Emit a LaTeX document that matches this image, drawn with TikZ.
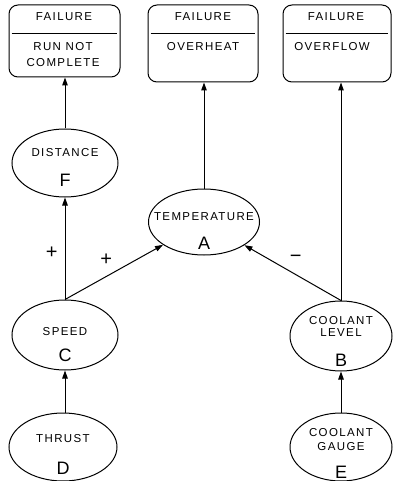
\documentclass[tikz,border=0pt]{standalone}
\usepackage{fontspec}
\newfontfamily\plotfont{Liberation Sans}[LetterSpace=12]
\usetikzlibrary{shapes.geometric,arrows.meta}

\begin{document}
\begin{tikzpicture}[x=1pt,y=-1pt,
  var/.style={ellipse,draw,line width=1pt,inner sep=0pt},
  failbox/.style={rectangle,rounded corners=9pt,draw,line width=1pt},
  word/.style={font=\plotfont\fontsize{11.5}{12}\selectfont,inner sep=0pt,align=center},
  letter/.style={font=\plotfont\fontsize{18}{18}\selectfont,inner sep=0pt},
  sign/.style={font=\plotfont\fontsize{20}{20}\selectfont,inner sep=0pt},
  link/.style={-{Triangle[length=8pt,width=5.5pt]},line width=1pt}]
\useasboundingbox (0,0) rectangle (392,481);

% failure boxes
\node [failbox,minimum width=111pt,minimum height=72pt] (f1) at (64.5,41) {};
\node [failbox,minimum width=110pt,minimum height=77pt] (f2) at (203,43.5) {};
\node [failbox,minimum width=108pt,minimum height=77pt] (f3) at (337,43.5) {};
\draw [line width=0.8pt] ([xshift=3pt]f1.north west) ++(0,29) -- ++(105,0);
\draw [line width=0.8pt] ([xshift=3pt]f2.north west) ++(0,29) -- ++(104,0);
\draw [line width=0.8pt] ([xshift=3pt]f3.north west) ++(0,29) -- ++(102,0);
\node [word] (f1-t) at (64,17) {FAILURE};
\node [word] (f1-b) at (63,55) {RUN NOT\\[4pt]COMPLETE};
\node [word] (f2-t) at (203,17) {FAILURE};
\node [word] (f2-b) at (203,47) {OVERHEAT};
\node [word] (f3-t) at (336,17) {FAILURE};
\node [word] (f3-b) at (332,47) {OVERFLOW};

% variables
\node [var,minimum width=106pt,minimum height=68pt] (F) at (65,163) {};
\node [var,minimum width=111pt,minimum height=66pt] (A) at (204,222) {};
\node [var,minimum width=106pt,minimum height=70pt] (C) at (65,335) {};
\node [var,minimum width=102pt,minimum height=70pt] (B) at (341,336) {};
\node [var,minimum width=108pt,minimum height=68pt] (D) at (63,447) {};
\node [var,minimum width=102pt,minimum height=68pt] (E) at (341,447) {};

\node [word] (F-w) at (65,153) {DISTANCE};
\node [letter] (F-l) at (65,180) {F};
\node [word] (A-w) at (204,217) {TEMPERATURE};
\node [letter] (A-l) at (204,243) {A};
\node [word] (C-w) at (65,332) {SPEED};
\node [letter] (C-l) at (65,355) {C};
\node [word] (B-w) at (341,326) {COOLANT\\LEVEL};
\node [letter] (B-l) at (341,360) {B};
\node [word] (D-w) at (63,439) {THRUST};
\node [letter] (D-l) at (63,468) {D};
\node [word] (E-w) at (341,440) {COOLANT\\[2pt]GAUGE};
\node [letter] (E-l) at (341,472) {E};

% links
\draw [link] (C.south |- D.north) -- (C.south);
\draw [link] (E) -- (B);
\draw [link] (C.north) -- node [sign,pos=0.46,left=7pt] (s1) {+} (F.south);
\draw [link] (C.north) -- node [sign,pos=0.42,above=11pt] (s2) {+} (A);
\draw [link] (B.north) -- node [sign,pos=0.47,above=11pt] (s3) {−} (A);
\draw [link] (F.north) -- (F.north |- f1.south);
\draw [link] (A.north) -- (A.north |- f2.south);
\draw [link] (B.north) -- (B.north |- f3.south);
\end{tikzpicture}
\end{document}
